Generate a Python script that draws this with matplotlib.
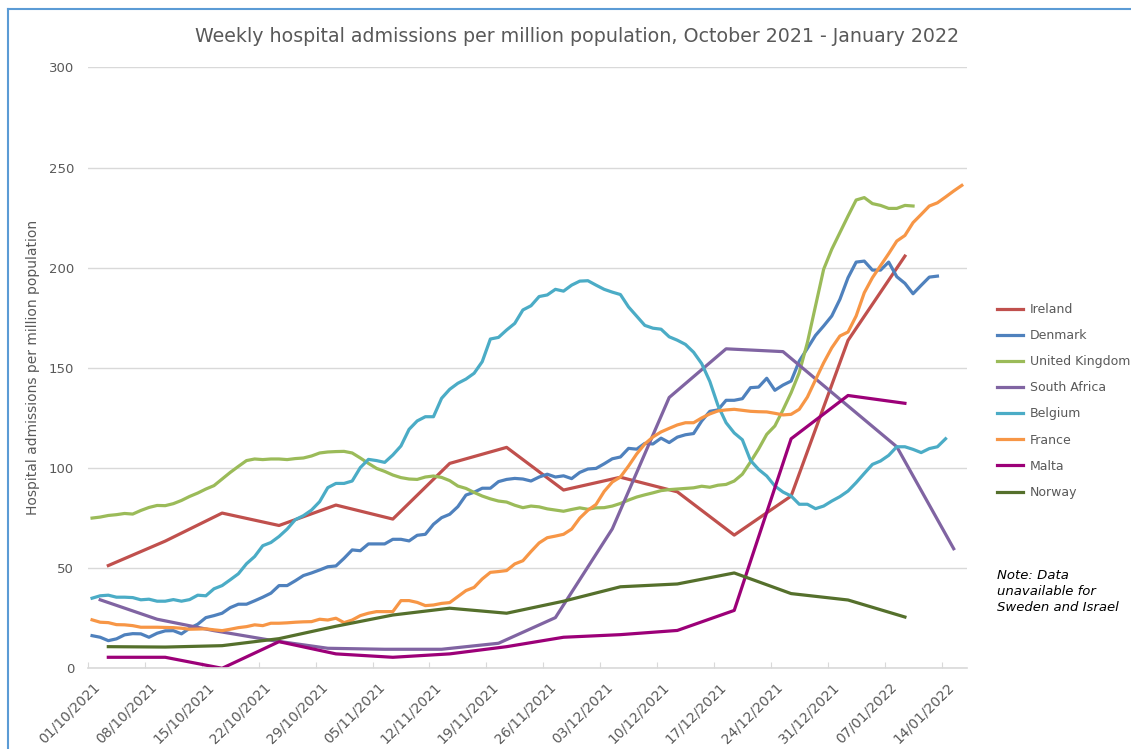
import matplotlib
matplotlib.use('Agg')
import matplotlib.pyplot as plt
import matplotlib.transforms as mtransforms
from matplotlib.lines import Line2D
import pandas as pd

plt.rcParams['font.family'] = ['DejaVu Sans']

# daily series, first value is 01/10/2021
uk = [75, 75.5, 76.3, 76.7, 77.3, 77, 78.8, 80.3, 81.3, 81.2,
      82.2, 83.8, 85.8, 87.5, 89.5, 91.2, 94.5, 97.8, 100.8, 103.7,
      104.5, 104.2, 104.5, 104.5, 104.2, 104.7, 105, 106, 107.5, 108,
      108.2, 108.3, 107.5, 105, 102.3, 99.8, 98.3, 96.5, 95.2, 94.5,
      94.3, 95.5, 96, 95.3, 93.7, 91, 89.8, 87.8, 86, 84.6,
      83.5, 83, 81.4, 80.2, 81, 80.6, 79.6, 79, 78.4, 79.3,
      80.1, 79.4, 80.1, 80.2, 81, 82.3, 84, 85.5, 86.6, 87.6,
      88.7, 89.2, 89.5, 89.8, 90.1, 90.9, 90.4, 91.4, 91.8, 93.5,
      96.9, 103, 109.5, 116.8, 121, 129, 137.6, 147.6, 162.6, 180.9,
      199.2, 209.2, 217.5, 225.8, 233.8, 235, 232, 231.1, 229.6, 229.6,
      231.1, 230.8]

belgium = [35, 36.2, 36.5, 35.5, 35.5, 35.3, 34.2, 34.5, 33.5, 33.5,
           34.3, 33.5, 34.3, 36.5, 36.2, 39.7, 41.3, 44.2, 47.2, 52.2,
           55.8, 61.2, 62.8, 65.8, 69.5, 74.2, 76.2, 79, 83.2, 90.2,
           92.3, 92.3, 93.5, 100.2, 104.3, 103.7, 102.8, 106.5, 111, 119.3,
           123.5, 125.6, 125.6, 134.8, 139.3, 142.3, 144.4, 147.3, 153.1, 164.4,
           165.2, 168.9, 172.2, 178.9, 181, 185.6, 186.4, 189.2, 188.3, 191.3,
           193.3, 193.5, 191.3, 189.2, 187.8, 186.6, 180.4, 175.8, 171.2, 169.8,
           169.3, 165.5, 163.8, 161.7, 157.8, 152.1, 143.2, 131.2, 122.6, 117.5,
           114.1, 103.8, 99.3, 96, 91, 88, 86, 81.9, 81.9, 79.7,
           81, 83.5, 85.7, 88.5, 92.7, 97.3, 101.8, 103.5, 106.3, 110.6,
           110.6, 109.3, 107.7, 109.7, 110.6, 114.6]

denmark = [16.3, 15.5, 13.8, 14.7, 16.7, 17.3, 17.2, 15.5, 17.5, 18.7,
           18.8, 17.2, 20, 22, 25.3, 26.3, 27.5, 30.3, 32, 32,
           33.7, 35.5, 37.5, 41.3, 41.3, 43.7, 46.3, 47.6, 49.1, 50.7,
           51.1, 54.9, 59.1, 58.7, 62.1, 62.1, 62.1, 64.4, 64.4, 63.6,
           66.4, 66.9, 71.9, 75.2, 76.9, 80.7, 86.5, 87.9, 89.9, 89.9,
           93.2, 94.3, 94.8, 94.5, 93.5, 95.5, 96.9, 95.5, 96.1, 94.7,
           97.8, 99.5, 99.8, 102.1, 104.6, 105.5, 109.8, 109.4, 112.3, 112,
           114.9, 112.7, 115.4, 116.6, 117.2, 123.5, 128.3, 129, 133.8, 133.8,
           134.6, 140.1, 140.4, 144.8, 138.8, 141.4, 143.4, 153.4, 159.7, 166.2,
           170.9, 175.9, 184.2, 195, 202.8, 203.3, 198.8, 198.8, 202.8, 195.5,
           192.2, 187, 191.2, 195.3, 195.8]

france = [24.2, 23, 22.8, 21.8, 21.7, 21.3, 20.5, 20.5, 20.5, 20.4,
          20.3, 20, 19.5, 19.6, 19.7, 19.2, 18.8, 19.5, 20.3, 20.8,
          21.7, 21.3, 22.5, 22.5, 22.7, 23, 23.2, 23.3, 24.5, 24.1,
          25, 22.8, 24.1, 26.3, 27.5, 28.3, 28.3, 28.3, 33.8, 33.8,
          32.9, 31.3, 31.6, 32.4, 32.8, 35.8, 38.8, 40.4, 44.6, 47.9,
          48.3, 48.8, 52.1, 53.7, 58.3, 62.6, 65.2, 66, 66.9, 69.5,
          75, 78.9, 81.8, 88.3, 93, 95.5, 101, 107, 112, 115.5,
          118, 119.8, 121.5, 122.6, 122.6, 125, 127, 128.5, 129, 129.3,
          128.8, 128.3, 128.1, 128, 127.3, 126.5, 126.8, 129.3, 135.4, 144,
          152.5, 160, 165.9, 167.9, 175.9, 187.5, 195, 201, 207, 213.3,
          216.1, 222.5, 226.6, 230.8, 232.4, 235.3, 238.3, 241.1]

# weekly series, Sundays from 03/10/2021
ireland = [51.3, 63.5, 77.5, 71.3, 81.5, 74.5, 102.3, 110.3, 89, 95.4, 88.1, 66.5, 86, 163.7, 205.8]
malta = [5.5, 5.5, 0, 13.3, 7.2, 5.5, 7.2, 10.8, 15.5, 16.8, 18.9, 28.9, 114.6, 136.2, 132.3]
norway = [10.8, 10.6, 11.3, 14.8, 21, 26.6, 30, 27.5, 33.5, 40.7, 42.1, 47.6, 37.3, 34.1, 25.6]

# South Africa, Saturdays (no value for 01/01/2022)
sa_dates = ['2021-10-02', '2021-10-09', '2021-10-16', '2021-10-23', '2021-10-30',
            '2021-11-06', '2021-11-13', '2021-11-20', '2021-11-27', '2021-12-04',
            '2021-12-11', '2021-12-18', '2021-12-25', '2022-01-08', '2022-01-15']
south_africa = [34.2, 24.5, 18.8, 14, 10, 9.5, 9.5, 12.5, 25.3, 69.6, 135.2, 159.5, 158.1, 110.6, 59.7]

half = pd.Timedelta(hours=12)
def daily(vals):
    return pd.date_range('2021-10-01', periods=len(vals), freq='D') + half
def weekly(vals):
    return pd.date_range('2021-10-03', periods=len(vals), freq='7D') + half

series = [
    ('Ireland', weekly(ireland), ireland, '#c0504d'),
    ('Denmark', daily(denmark), denmark, '#4f81bd'),
    ('United Kingdom', daily(uk), uk, '#9bbb59'),
    ('South Africa', pd.to_datetime(sa_dates) + half, south_africa, '#8064a2'),
    ('Belgium', daily(belgium), belgium, '#4bacc6'),
    ('France', daily(france), france, '#f79646'),
    ('Malta', weekly(malta), malta, '#9c0078'),
    ('Norway', weekly(norway), norway, '#55702c'),
]

fig = plt.figure(figsize=(11.31, 7.49), dpi=100)
ax = fig.add_axes([88/1131, 1-668.3/749, (966.7-88)/1131, (668.3-67.4)/749])

for name, x, y, c in series:
    ax.plot(x, y, color=c, linewidth=2.3, label=name, solid_joinstyle='round')

ax.set_ylim(0, 300)
ax.set_yticks(range(0, 301, 50))
ax.set_xlim(pd.Timestamp('2021-10-01'), pd.Timestamp('2021-10-01') + pd.Timedelta(days=108.1))
ticks = pd.date_range('2021-10-01', '2022-01-14', freq='7D')
ax.set_xticks(ticks)
ax.set_xticklabels([t.strftime('%d/%m/%Y') for t in ticks], rotation=45,
                   ha='right', va='center', rotation_mode='anchor')

ax.grid(axis='y', color='#d9d9d9', linewidth=1)
ax.set_axisbelow(True)
for s in ['left', 'right', 'top']:
    ax.spines[s].set_visible(False)
ax.spines['bottom'].set_color('#d9d9d9')
ax.spines['bottom'].set_linewidth(1.2)
ax.tick_params(axis='y', length=0, pad=10, labelsize=9.5, labelcolor='#595959')
ax.tick_params(axis='x', direction='in', length=4, color='#d9d9d9', pad=12,
               labelsize=10, labelcolor='#595959')
off = mtransforms.ScaledTranslation(10/100, 0, fig.dpi_scale_trans)
for lab in ax.get_xticklabels():
    lab.set_transform(lab.get_transform() + off)

ax.set_ylabel('Hospital admissions per million population', fontsize=10, color='#595959')
ax.yaxis.set_label_coords(-0.0546, 0.5)

fig.text(577/1131, 1-37/749,
         'Weekly hospital admissions per million population, October 2021 - January 2022',
         ha='center', va='center', fontsize=13.7, color='#595959')

ax.legend(loc='upper left', bbox_to_anchor=(997/1131, 1-303/749),
          bbox_transform=fig.transFigure, frameon=False, fontsize=9,
          handlelength=2.1, handletextpad=0.5, labelspacing=1.05,
          borderpad=0, borderaxespad=0, labelcolor='#595959')

fig.text(997/1131, 1-569/749, 'Note: Data\nunavailable for\nSweden and Israel',
         ha='left', va='top', fontsize=9.5, style='italic', color='black', linespacing=1.3)

# chart frame (left and top edges)
fig.add_artist(Line2D([8/1131, 8/1131], [0, 1-9/749], transform=fig.transFigure,
                      color='#5b9bd5', linewidth=1.5))
fig.add_artist(Line2D([8/1131, 1], [1-9/749, 1-9/749], transform=fig.transFigure,
                      color='#5b9bd5', linewidth=1.5))

fig.savefig('out.png', dpi=100)
